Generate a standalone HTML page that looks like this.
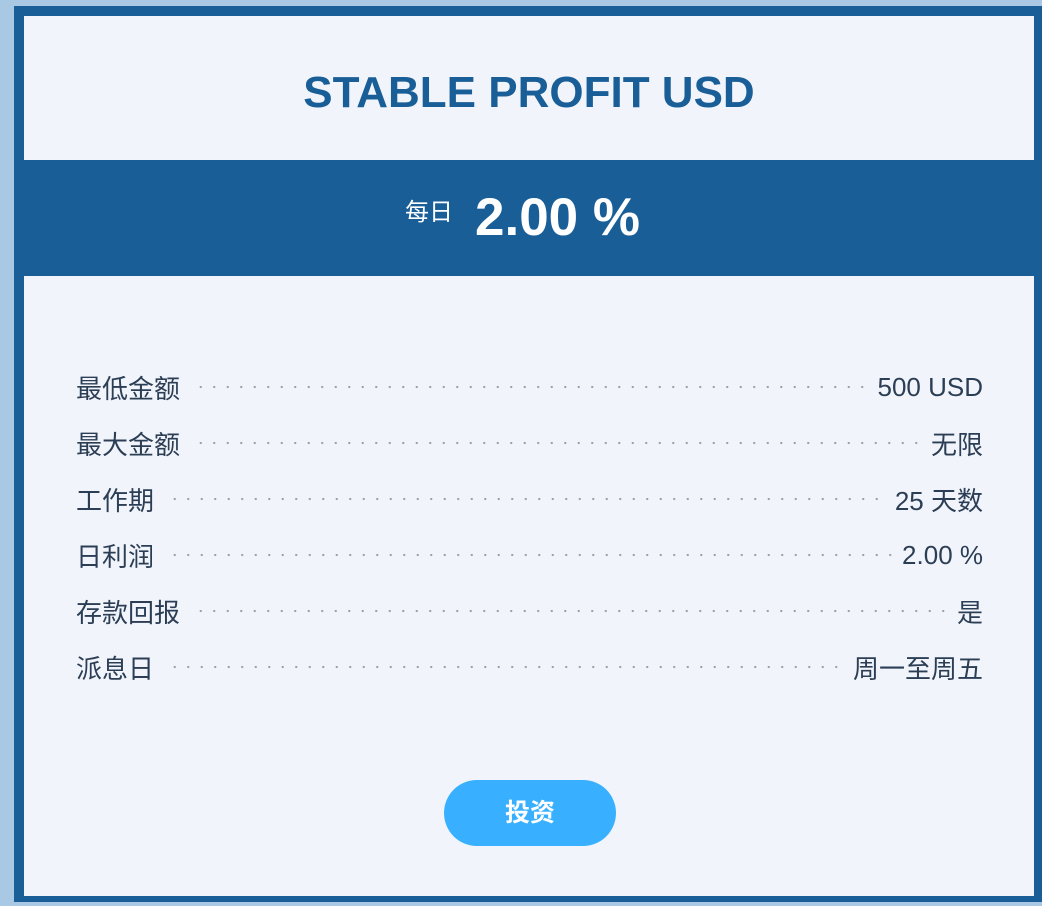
<!DOCTYPE html>
<html><head><meta charset="utf-8"><style>
html,body{margin:0;padding:0;}
body{width:1042px;height:906px;background:#a9c8e3;position:relative;overflow:hidden;font-family:"Liberation Sans","Noto Sans CJK SC",sans-serif;}
.card{position:absolute;left:14px;top:6px;width:1010px;height:880px;border:10px solid #1a5e98;border-right-width:8px;border-bottom-width:6px;background:#f1f5fb;}
.title{position:absolute;left:0;right:0;top:49px;text-align:center;font-size:44px;font-weight:bold;color:#1a5e98;line-height:56px;}
.band{position:absolute;left:0;right:0;top:144px;height:116px;background:#1a5e98;color:#fff;text-align:center;}
.band .lbl{position:absolute;left:381px;top:38px;font-size:24px;line-height:30px;}
.band .val{position:absolute;left:451px;top:26px;font-size:53px;font-weight:bold;line-height:64px;}
.row{position:absolute;left:52px;width:907px;height:34px;display:flex;align-items:center;font-size:26px;color:#2c3e55;}
.row .dots{flex:1;margin:0 10px 0 14px;height:4px;position:relative;top:0px;background:radial-gradient(circle,#9aa3ad 1px,transparent 1.3px) 0 0/13.5px 4px repeat-x;}
.btn{position:absolute;left:420px;top:764px;width:172px;height:66px;border-radius:33px;background:#38b0ff;color:#fff;font-size:25px;line-height:66px;text-align:center;font-weight:bold;}
</style></head><body>
<div class="card">
<div class="title">STABLE PROFIT USD</div>
<div class="band">
<span class="lbl">每日</span>
<span class="val">2.00 %</span>
</div>
<div class="row" style="top:354px"><span>最低金额</span><span class="dots"></span><span>500 USD</span></div>
<div class="row" style="top:410px"><span>最大金额</span><span class="dots"></span><span>无限</span></div>
<div class="row" style="top:466px"><span>工作期</span><span class="dots"></span><span>25 天数</span></div>
<div class="row" style="top:522px"><span>日利润</span><span class="dots"></span><span>2.00 %</span></div>
<div class="row" style="top:578px"><span>存款回报</span><span class="dots"></span><span>是</span></div>
<div class="row" style="top:634px"><span>派息日</span><span class="dots"></span><span>周一至周五</span></div>
<div class="btn">投资</div>
</div>
</body></html>
